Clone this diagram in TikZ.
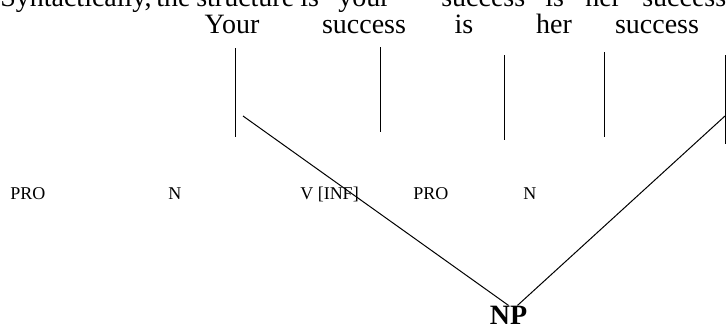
\documentclass[tikz,border=0pt]{standalone}
\usepackage{fontspec}
\setmainfont{Liberation Serif}
\usetikzlibrary{calc}

\begin{document}
\begin{tikzpicture}[x=0.75pt,y=-0.75pt,
		word/.style={anchor=base,inner sep=0pt,font=\fontsize{21}{25}\selectfont},
		cat/.style={anchor=base west,inner sep=0pt,font=\fontsize{13.5}{16}\selectfont},
		branch/.style={line width=0.75pt}]
		\useasboundingbox (0,0) rectangle (726,325);
		\clip (0,0) rectangle (726,325);
		% sentence line, cut off at the top
		\foreach \x/\w [count=\i] in {0/{Syntactically,},156/the,196/structure,300/is,338/your,441/success,545/is,585/her,642/success}
			\node[word,anchor=base west] (s\i) at (\x,6) {\w};
		% the words
		\node[word] (your) at (232,33) {Your};
		\node[word] (succ1) at (364,33) {success};
		\node[word] (is) at (464,33) {is};
		\node[word] (her) at (554,33) {her};
		\node[word] (succ2) at (657,33) {success};
		% stems
		\coordinate (t1) at (235,48);	\coordinate (b1) at (235,137);
		\coordinate (t2) at (380,47);	\coordinate (b2) at (380,132);
		\coordinate (t3) at (504,55);	\coordinate (b3) at (504,140);
		\coordinate (t4) at (604,52);	\coordinate (b4) at (604,137);
		\coordinate (t5) at (725,55);	\coordinate (b5) at (725,144);
		\foreach \i in {1,...,5}
			\draw[branch] (t\i) -- (b\i);
		% categories
		\node[cat] (pro1) at (10,199) {PRO};
		\node[cat] (n1) at (168,199) {N};
		\node[cat] (vinf) at (300,199) {V [INF]};
		\node[cat] (pro2) at (413,199) {PRO};
		\node[cat] (n2) at (523,199) {N};
		\node[word,font=\fontsize{21}{25}\selectfont\bfseries] (np) at (508.5,324) {NP};
		\coordinate (d1) at (243,116);
		\coordinate (d2) at (725,116);
		\draw[branch] (d1) -- (np.north);
		\draw[branch] (d2) -- ($(np.north)+(9,0)$);
\end{tikzpicture}
\end{document}
